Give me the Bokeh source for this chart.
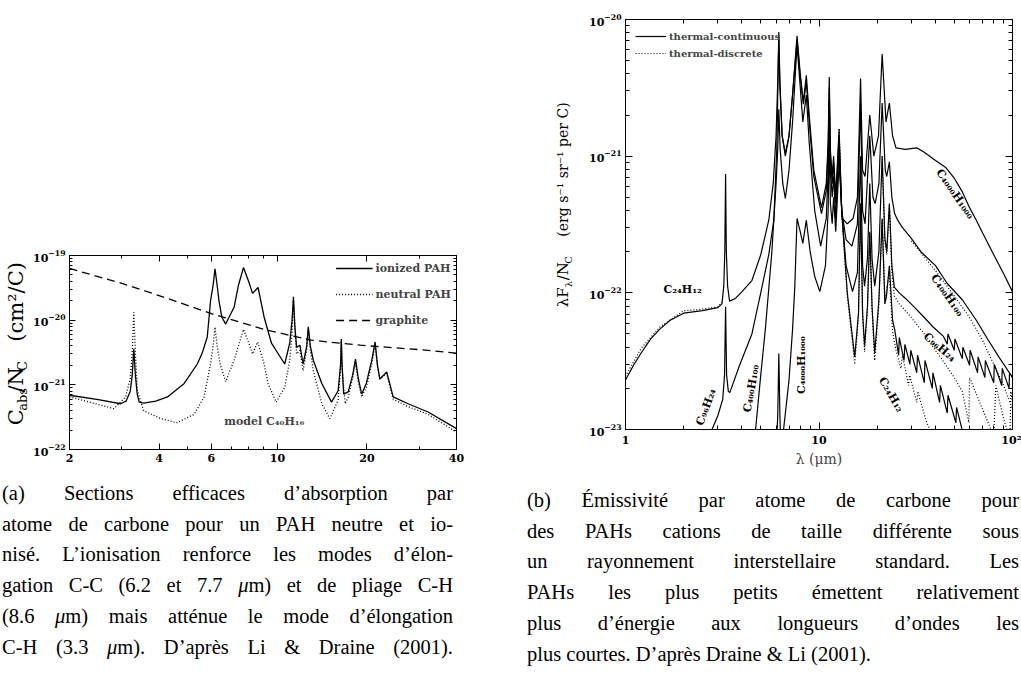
from bokeh.plotting import figure
from bokeh.models import (Range1d, LogAxis, FixedTicker, Label, Legend, LegendItem,
                          Div, Spacer, BasicTickFormatter, CustomJSTickFormatter)
from bokeh.layouts import row, column
from bokeh.embed import file_html
from bokeh.resources import INLINE

SERIF = "DejaVu Serif"

# ---------------- panel (a): absorption cross sections -----------------
A_GRA_WL = [2, 3, 4, 6, 9, 13, 19, 30, 40]
A_GRA = [6.3e-20, 3.7e-20, 2.4e-20, 1.26e-20, 7.2e-21, 4.9e-21, 4.1e-21, 3.5e-21, 3.1e-21]

A_ION_WL = [2.0, 2.5, 2.97, 3.1, 3.2, 3.25, 3.29, 3.33, 3.38, 3.43, 3.55, 3.9, 4.27, 4.86, 5.38,
            5.6, 5.81, 5.96, 6.08, 6.17, 6.27, 6.36, 6.5, 6.7, 7.15, 7.4, 7.69, 8.0, 8.25, 8.61,
            9.02, 9.55, 10.58, 11.0, 11.2, 11.32, 11.45, 11.6, 11.9, 12.2, 12.55, 12.7, 12.9, 13.2,
            14.1, 15.2, 16.0, 16.3, 16.4, 16.5, 16.7, 17.3, 17.9, 18.3, 18.7, 19.2, 19.9, 20.8,
            21.3, 21.7, 22.1, 23.3, 24.5, 27.5, 32.1, 40.0]
A_ION = [6.9e-22, 5.9e-22, 5.1e-22, 5.6e-22, 7.9e-22, 1.41e-21, 3.6e-21, 1.41e-21, 7.1e-22, 5.4e-22,
         5.2e-22, 5.6e-22, 6.5e-22, 1.05e-21, 2.1e-21, 3.2e-21, 5.5e-21, 2.0e-20, 3.5e-20, 6.2e-20,
         3.5e-20, 2.0e-20, 1.12e-20, 8.7e-21, 1.58e-20, 3.5e-20, 6.5e-20, 4.0e-20, 2.6e-20, 3.2e-20,
         1.12e-20, 4.4e-21, 2.1e-21, 4.4e-21, 1.0e-20, 2.3e-20, 7.9e-21, 3.8e-21, 4.1e-21, 2.1e-21,
         4.0e-21, 7.9e-21, 4.0e-21, 2.4e-21, 1.05e-21, 5.4e-22, 8.1e-22, 2.0e-21, 5.1e-21, 2.0e-21,
         7.2e-22, 7.8e-22, 1.41e-21, 2.5e-21, 1.26e-21, 7.2e-22, 1.05e-21, 2.5e-21, 4.6e-21, 2.0e-21,
         1.23e-21, 1.58e-21, 6.5e-22, 5.1e-22, 3.8e-22, 2.1e-22]

A_NEU_WL = [2.0, 2.82, 3.09, 3.2, 3.25, 3.29, 3.33, 3.38, 3.55, 4.05, 4.6, 5.25, 5.67, 5.96, 6.08,
            6.17, 6.27, 6.42, 6.7, 7.15, 7.4, 7.69, 8.0, 8.25, 8.58, 9.02, 9.3, 9.9, 10.58, 11.0,
            11.2, 11.32, 11.45, 11.6, 11.9, 12.2, 12.55, 12.7, 12.9, 13.2, 14.1, 15.0, 16.0, 16.3,
            16.4, 16.5, 16.9, 17.3, 17.9, 18.3, 18.7, 19.2, 19.9, 20.8, 21.3, 21.7, 22.1, 23.3,
            24.5, 27.5, 32.1, 40.0]
A_NEU = [6.5e-22, 4.3e-22, 6.5e-22, 1.26e-21, 3.2e-21, 1.32e-20, 3.2e-21, 8.1e-22, 4.0e-22, 3.0e-22,
         2.6e-22, 3.5e-22, 6.5e-22, 2.1e-21, 4.0e-21, 7.8e-21, 4.0e-21, 2.1e-21, 1.12e-21, 2.4e-21,
         4.0e-21, 7.2e-21, 4.5e-21, 3.0e-21, 4.6e-21, 2.1e-21, 1.05e-21, 5.4e-22, 9.1e-22, 2.4e-21,
         6.3e-21, 2.0e-20, 7.1e-21, 3.0e-21, 3.4e-21, 1.66e-21, 3.5e-21, 7.4e-21, 3.5e-21, 1.66e-21,
         5.1e-22, 3.0e-22, 5.8e-22, 1.78e-21, 4.8e-21, 1.78e-21, 5.1e-22, 6.5e-22, 1.26e-21, 2.2e-21,
         1.12e-21, 6.5e-22, 9.1e-22, 2.2e-21, 4.2e-21, 1.9e-21, 1.23e-21, 1.51e-21, 6.0e-22, 4.6e-22,
         3.5e-22, 1.86e-22]

# ---------------- panel (b): emission per C atom -----------------
B_C24_WL = [1.0, 1.1, 1.2, 1.35, 1.5, 1.7, 2.0, 2.5, 3.0, 3.15, 3.22, 3.26, 3.29, 3.32, 3.37, 3.45,
            3.7, 4.0, 4.5, 5.0, 5.5, 5.8, 6.0, 6.12, 6.2, 6.28, 6.45, 6.7, 7.0, 7.3, 7.7, 8.0, 8.3,
            8.6, 8.9, 9.4, 10.3, 10.9, 11.15, 11.3, 11.45, 11.7, 11.9, 12.2, 12.7, 13.1, 14.0, 15.3,
            16.0, 16.4, 16.8, 17.2, 17.8, 18.3, 18.8, 19.4, 20.4, 21.2, 21.9, 22.3, 23.1, 24.0, 24.6,
            25.8, 26.0, 27.5, 27.8, 29.5, 29.8, 32.0, 32.3, 35.0, 35.3, 38.5, 38.8, 42.0, 42.4,
            46.0, 46.4, 51.0, 51.4, 56.0, 62.0]
B_C24 = [2.3e-23, 2.95e-23, 3.6e-23, 4.6e-23, 5.4e-23, 6.3e-23, 7.1e-23, 7.4e-23, 7.8e-23, 8.3e-23,
         1.12e-22, 2.0e-22, 7.4e-22, 2.0e-22, 1.12e-22, 8.7e-23, 9.1e-23, 1.02e-22, 1.23e-22, 1.9e-22,
         3.4e-22, 6.3e-22, 1.41e-21, 3.5e-21, 8.1e-21, 3.5e-21, 1.41e-21, 1.0e-21, 1.41e-21, 2.8e-21,
         7.6e-21, 4.0e-21, 2.5e-21, 3.9e-21, 2.0e-21, 7.9e-22, 4.2e-22, 6.3e-22, 1.26e-21, 3.8e-21,
         1.12e-21, 7.1e-22, 1.0e-21, 5.0e-22, 1.58e-21, 4.0e-22, 1.0e-22, 3.4e-23, 7.1e-23, 4.5e-22,
         7.1e-23, 4.1e-23, 7.9e-23, 2.8e-22, 7.9e-23, 3.6e-23, 8.9e-23, 3.5e-22, 8.3e-23, 9.3e-23,
         1.58e-22, 6.3e-23, 5.4e-23, 3.5e-23, 4.7e-23, 3.2e-23, 4.2e-23, 3.0e-23, 3.8e-23, 2.6e-23,
         3.5e-23, 2.2e-23, 3.2e-23, 2.0e-23, 2.6e-23, 1.58e-23, 2.1e-23, 1.32e-23, 1.78e-23, 1.12e-23,
         1.45e-23, 8.9e-24, 6.3e-24]

B_C24D_WL1 = [1.0, 1.2, 1.5, 2.0, 2.5, 3.0, 3.15]
B_C24D1 = [2.45e-23, 3.9e-23, 5.6e-23, 7.4e-23, 7.6e-23, 7.9e-23, 8.5e-23]
B_C24D_WL2 = [12.7, 13.1, 14.0, 15.3, 16.0, 16.4, 16.8, 17.2, 17.8, 18.3, 18.8, 19.4, 20.4, 21.2,
              21.9, 23.1, 24.0, 25.0, 26.5, 27.0, 29.0, 29.4, 32.0, 32.4, 36.0, 39.0, 45.0]
B_C24D2 = [1.58e-21, 4.0e-22, 9.5e-23, 3.0e-23, 6.8e-23, 4.3e-22, 6.8e-23, 3.7e-23, 7.6e-23, 2.7e-22,
           7.6e-23, 3.2e-23, 8.3e-23, 3.4e-22, 8.9e-23, 1.41e-22, 5.2e-23, 3.8e-23, 2.8e-23, 3.5e-23,
           2.1e-23, 2.5e-23, 1.58e-23, 1.9e-23, 1.12e-23, 8.9e-24, 5.6e-24]

B_C96_WL = [2.55, 2.8, 3.0, 3.18, 3.25, 3.29, 3.33, 3.4, 3.46, 3.87, 4.5, 5.0, 5.5, 5.84, 6.05, 6.13,
            6.2, 6.28, 6.45, 6.7, 7.0, 7.3, 7.7, 8.0, 8.3, 8.6, 8.9, 9.4, 10.3, 10.9, 11.15, 11.3,
            11.45, 11.7, 11.9, 12.2, 12.7, 13.1, 13.8, 14.9, 15.8, 16.4, 16.8, 17.2, 17.8, 18.3,
            18.8, 19.4, 20.4, 21.2, 21.9, 22.4, 23.1, 23.8, 24.5, 26.0, 28.0, 31.0, 35.0, 39.0,
            44.0, 46.0, 46.4, 50.0, 50.4, 55.0, 55.4, 60.0, 60.4, 66.0, 66.4, 72.0, 72.4, 80.0,
            80.5, 88.0, 88.5, 96.0, 96.5, 100.0]
B_C96 = [6.3e-24, 1.0e-23, 1.26e-23, 1.66e-23, 2.5e-23, 7.9e-23, 2.5e-23, 1.9e-23, 1.86e-23, 2.9e-23,
         5.0e-23, 1.0e-22, 1.9e-22, 3.4e-22, 1.12e-21, 3.2e-21, 7.1e-21, 3.2e-21, 1.41e-21, 1.05e-21,
         1.41e-21, 2.8e-21, 7.1e-21, 3.8e-21, 2.4e-21, 3.5e-21, 1.78e-21, 7.1e-22, 3.8e-22, 5.6e-22,
         1.12e-21, 3.2e-21, 1.0e-21, 6.3e-22, 8.9e-22, 4.5e-22, 1.41e-21, 4.0e-22, 1.58e-22, 1.02e-22,
         1.41e-22, 1.0e-21, 1.58e-22, 1.12e-22, 1.78e-22, 6.3e-22, 1.78e-22, 1.12e-22, 2.0e-22, 1.0e-21,
         2.5e-22, 2.0e-22, 4.5e-22, 1.58e-22, 1.1e-22, 1.0e-22, 9.1e-23, 7.9e-23, 6.6e-23, 5.6e-23,
         4.8e-23, 4.2e-23, 5.0e-23, 3.8e-23, 4.6e-23, 3.3e-23, 4.0e-23, 2.95e-23, 3.8e-23, 2.6e-23,
         3.4e-23, 2.4e-23, 3.2e-23, 2.2e-23, 3.0e-23, 2.1e-23, 2.8e-23, 2.0e-23, 2.6e-23, 2.4e-23]

B_C96D_WL = [21.2, 21.9, 22.4, 23.1, 23.8, 24.5, 26.0, 30.0, 35.0, 40.0, 45.0, 50.0, 55.0, 59.5,
             60.0, 70.0, 80.0, 82.0, 90.0, 97.0, 98.0, 100.0]
B_C96D = [1.0e-21, 2.4e-22, 1.9e-22, 4.3e-22, 1.41e-22, 9.5e-23, 8.3e-23, 6.6e-23, 5.0e-23, 3.8e-23,
          3.0e-23, 2.4e-23, 1.9e-23, 1.12e-23, 2.4e-23, 1.41e-23, 8.9e-24, 2.1e-23, 1.2e-23, 8.3e-24,
          1.9e-23, 1.58e-23]

B_C400_WL = [4.5, 4.7, 5.0, 5.28, 5.7, 6.0, 6.12, 6.2, 6.3, 6.5, 6.7, 7.0, 7.3, 7.7, 8.0, 8.25, 8.6,
             8.9, 9.5, 10.2, 10.9, 11.15, 11.3, 11.45, 11.7, 11.9, 12.2, 12.7, 13.1, 13.8, 14.8,
             15.8, 16.4, 16.8, 17.3, 18.3, 19.0, 19.5, 20.4, 21.2, 22.0, 22.4, 23.1, 23.8, 24.6,
             25.5, 27.0, 30.0, 33.6, 40.0, 46.0, 55.0, 65.0, 75.0, 85.0, 100.0]
B_C400 = [6.3e-24, 1.0e-23, 2.5e-23, 5.4e-23, 1.95e-22, 6.3e-22, 1.12e-21, 2.2e-21, 1.12e-21, 6.3e-22,
          4.9e-22, 7.9e-22, 1.78e-21, 6.5e-21, 3.2e-21, 1.78e-21, 2.8e-21, 1.26e-21, 4.0e-22, 2.2e-22,
          3.5e-22, 7.9e-22, 2.5e-21, 7.9e-22, 5.0e-22, 7.1e-22, 3.5e-22, 1.12e-21, 4.0e-22, 2.45e-22,
          2.2e-22, 3.2e-22, 2.5e-21, 4.0e-22, 3.2e-22, 1.41e-21, 5.0e-22, 4.5e-22, 6.3e-22, 2.45e-21,
          7.9e-22, 7.1e-22, 9.1e-22, 5.0e-22, 3.8e-22, 3.4e-22, 3.0e-22, 2.5e-22, 2.0e-22, 1.58e-22,
          1.17e-22, 8.9e-23, 6.3e-23, 4.5e-23, 3.4e-23, 2.4e-23]
B_C400D_WL = [30.0, 40.0, 50.0, 60.0, 70.0, 80.0, 90.0, 100.0]
B_C400D = [2.4e-22, 1.45e-22, 9.5e-23, 6.6e-23, 4.5e-23, 3.0e-23, 2.1e-23, 1.41e-23]

B_C4000_WL = [5.95, 6.12, 6.2, 6.28, 6.4, 6.56, 7.0, 7.3, 7.5, 7.7, 8.0, 8.25, 8.6, 9.0, 9.5, 10.1,
              10.8, 11.15, 11.3, 11.45, 11.7, 11.9, 12.2, 12.7, 13.2, 14.0, 15.0, 15.8, 16.4, 16.8,
              17.3, 18.3, 19.2, 20.3, 21.2, 22.2, 23.1, 24.0, 25.0, 28.0, 32.0, 35.0, 40.0, 45.0,
              50.0, 55.0, 60.0, 65.0, 70.0, 80.0, 90.0, 100.0]
B_C4000 = [5.0e-24, 1.26e-23, 3.6e-23, 1.26e-23, 5.0e-24, 1.0e-23, 2.3e-23, 5.4e-23, 1.12e-22, 3.5e-22,
           2.8e-22, 2.3e-22, 3.4e-22, 2.0e-22, 1.32e-22, 1.02e-22, 1.58e-22, 4.0e-22, 1.41e-21, 4.5e-22,
           3.2e-22, 5.0e-22, 2.8e-22, 8.9e-22, 3.5e-22, 3.2e-22, 3.5e-22, 5.0e-22, 3.7e-21, 7.9e-22,
           7.1e-22, 2.0e-21, 1.0e-21, 1.41e-21, 5.6e-21, 1.78e-21, 2.45e-21, 1.41e-21, 1.15e-21, 1.12e-21,
           1.15e-21, 1.07e-21, 9.3e-22, 8.3e-22, 6.9e-22, 5.5e-22, 4.2e-22, 3.4e-22, 2.75e-22, 1.9e-22,
           1.38e-22, 1.02e-22]

CAPTION_A = [
    "(a) Sections efficaces d’absorption par",
    "atome de carbone pour un PAH neutre et io-",
    "nisé. L’ionisation renforce les modes d’élon-",
    "gation C-C (6.2 et 7.7 <i>μ</i>m) et de pliage C-H",
    "(8.6 <i>μ</i>m) mais atténue le mode d’élongation",
    "C-H (3.3 <i>μ</i>m). D’après Li &amp; Draine (2001).",
]
CAPTION_B = [
    "(b) Émissivité par atome de carbone pour",
    "des PAHs cations de taille différente sous",
    "un rayonnement interstellaire standard. Les",
    "PAHs les plus petits émettent relativement",
    "plus d’énergie aux longueurs d’ondes les",
    "plus courtes. D’après Draine &amp; Li (2001).",
]


def minors(lo, hi):
    return [m * 10.0 ** e for e in range(lo, hi) for m in range(2, 10)]


def style(p, major_in, minor_in, size):
    p.background_fill_color = "white"
    p.border_fill_color = "white"
    p.outline_line_color = "black"
    p.grid.visible = False
    for ax in p.axis:
        ax.major_tick_in = major_in
        ax.major_tick_out = 0
        ax.minor_tick_in = minor_in
        ax.minor_tick_out = 0
        ax.axis_line_color = "black"
        ax.major_tick_line_color = "black"
        ax.minor_tick_line_color = "black"
        ax.major_label_text_font = SERIF
        ax.major_label_text_font_style = "bold"
        ax.major_label_text_font_size = size
        ax.major_label_text_color = "black"
        ax.major_label_standoff = 4


def mirror(p, xt, yt):
    blank = CustomJSTickFormatter(code="return ''")
    top = LogAxis(ticker=xt, formatter=blank)
    right = LogAxis(ticker=yt, formatter=blank)
    p.add_layout(top, "above")
    p.add_layout(right, "right")
    return top, right


def label_panel(w, h):
    f = figure(width=w, height=h, x_range=Range1d(0, w), y_range=Range1d(0, h),
               toolbar_location=None, output_backend="svg", min_border=0,
               x_axis_location=None, y_axis_location=None)
    f.outline_line_color = None
    f.grid.visible = False
    f.background_fill_color = "white"
    f.border_fill_color = "white"
    return f


def add_pieces(f, pieces):
    for txt, x, y, fs in pieces:
        f.add_layout(Label(x=x, y=y, text=txt, angle=90, angle_units="deg", text_font=SERIF,
                           text_font_size=fs, text_align="left", text_baseline="middle",
                           text_color="black"))


# ================= left figure =================
p1 = figure(width=490, height=225, x_axis_type="log", y_axis_type="log",
            x_range=Range1d(2, 40), y_range=Range1d(1e-22, 1e-19),
            output_backend="svg", toolbar_location=None,
            min_border_left=38, min_border_right=64, min_border_top=10, min_border_bottom=21)
xt1 = FixedTicker(ticks=[2, 4, 6, 10, 20, 40], minor_ticks=[3, 5, 7, 8, 9, 30])
yt1 = FixedTicker(ticks=[1e-22, 1e-21, 1e-20, 1e-19], minor_ticks=minors(-22, -19))
p1.below[0].ticker = xt1
p1.below[0].formatter = BasicTickFormatter()
p1.left[0].ticker = yt1
t1, r1 = mirror(p1, xt1, yt1)
style(p1, 6, 3, "11px")
for ax in (t1, r1):
    ax.major_label_standoff = 0

r_ion = p1.line(A_ION_WL, A_ION, line_color="black", line_width=1.3)
r_neu = p1.line(A_NEU_WL, A_NEU, line_color="black", line_width=1.3, line_dash="1 2")
r_gra = p1.line(A_GRA_WL, A_GRA, line_color="black", line_width=1.3, line_dash="8 5")

leg1 = Legend(items=[LegendItem(label="ionized PAH", renderers=[r_ion]),
                     LegendItem(label="neutral PAH", renderers=[r_neu]),
                     LegendItem(label="graphite", renderers=[r_gra])],
              location="top_right", background_fill_alpha=0, border_line_alpha=0,
              label_text_font=SERIF, label_text_font_style="bold", label_text_font_size="11px",
              glyph_width=37, glyph_height=16, label_height=16, label_standoff=3,
              spacing=10, padding=0, margin=5)
p1.add_layout(leg1)

p1.add_layout(Label(x=6.63, y=2.7e-22, text="model C₄₀H₁₆", text_font=SERIF,
                    text_font_style="bold", text_font_size="11px", text_baseline="middle",
                    text_align="left"))

# y-axis title of panel (a) with subscripts, drawn in a narrow side panel
pl1 = label_panel(30, 225)
add_pieces(pl1, [("C", 15, 28, "21px"), ("abs", 22, 45, "13px"), ("/N", 15, 66, "21px"),
                 ("C", 22, 91, "13px"), ("(cm²/C)", 15, 125, "21px")])

# ================= right figure =================
p2 = figure(width=435, height=470, x_axis_type="log", y_axis_type="log",
            x_range=Range1d(1, 100), y_range=Range1d(1e-23, 1e-20),
            output_backend="svg", toolbar_location=None,
            min_border_left=36, min_border_right=9, min_border_top=19, min_border_bottom=41)
xt2 = FixedTicker(ticks=[1, 10, 100], minor_ticks=[2, 3, 4, 5, 6, 7, 8, 9, 20, 30, 40, 50, 60, 70, 80, 90])
yt2 = FixedTicker(ticks=[1e-23, 1e-22, 1e-21, 1e-20], minor_ticks=minors(-23, -20))
p2.below[0].ticker = xt2
p2.below[0].formatter = BasicTickFormatter()
p2.below[0].major_label_overrides = {1: "1", 10: "10", 100: "10²"}
p2.left[0].ticker = yt2
t2, r2 = mirror(p2, xt2, yt2)
style(p2, 7, 4, "11px")
for ax in (t2, r2):
    ax.major_label_standoff = 0
p2.below[0].axis_label = "λ (μm)"
p2.below[0].axis_label_text_font = SERIF
p2.below[0].axis_label_text_font_style = "normal"
p2.below[0].axis_label_text_font_size = "14px"
p2.below[0].axis_label_standoff = 1

LW = 1.2
r_c24 = p2.line(B_C24_WL, B_C24, line_color="black", line_width=LW)
p2.line(B_C96_WL, B_C96, line_color="black", line_width=LW)
p2.line(B_C400_WL, B_C400, line_color="black", line_width=LW)
p2.line(B_C4000_WL, B_C4000, line_color="black", line_width=LW)
p2.line(B_C24D_WL1, B_C24D1, line_color="black", line_width=LW, line_dash="1 2")
r_c24d = p2.line(B_C24D_WL2, B_C24D2, line_color="black", line_width=LW, line_dash="1 2")
p2.line(B_C96D_WL, B_C96D, line_color="black", line_width=LW, line_dash="1 2")
p2.line(B_C400D_WL, B_C400D, line_color="black", line_width=LW, line_dash="1 2")

leg2 = Legend(items=[LegendItem(label="thermal-continuous", renderers=[r_c24]),
                     LegendItem(label="thermal-discrete", renderers=[r_c24d])],
              location="top_left", background_fill_alpha=0, border_line_alpha=0,
              label_text_font=SERIF, label_text_font_style="bold", label_text_font_size="10px",
              glyph_width=31, glyph_height=14, label_height=14, label_standoff=3,
              spacing=3, padding=0, margin=10)
p2.add_layout(leg2)

for txt, x, y, ang, al in [("C₂₄H₁₂", 1.57, 1.05e-22, 0, "left"),
                           ("C₉₆H₂₄", 2.61, 1.46e-23, 70, "center"),
                           ("C₄₀₀H₁₀₀", 4.47, 2.0e-23, 80, "center"),
                           ("C₄₀₀₀H₁₀₀₀", 8.15, 2.96e-23, 90, "center"),
                           ("C₂₄H₁₂", 23.6, 1.8e-23, -60, "center"),
                           ("C₉₆H₂₄", 42.0, 4.0e-23, -40, "center"),
                           ("C₄₀₀H₁₀₀", 46.0, 9.6e-23, -55, "center"),
                           ("C₄₀₀₀H₁₀₀₀", 50.5, 5.3e-22, -55, "center")]:
    p2.add_layout(Label(x=x, y=y, text=txt, angle=ang, angle_units="deg", text_font=SERIF,
                        text_font_style="bold", text_font_size="11px", text_align=al,
                        text_baseline="middle", text_color="black"))

# y-axis title of panel (b), side panel between the two plots
pl2 = label_panel(66, 470)
add_pieces(pl2, [("λF", 42, 140, "15px"), ("λ", 48, 163, "10px"), ("/N", 42, 171, "15px"),
                 ("C", 48, 190, "10px"), ("(erg s⁻¹ sr⁻¹ per C)", 42, 221, "14px")])


# ================= captions =================
def caption(lines, pad_top, pad_left, width, justify_last):
    out = []
    for i, ln in enumerate(lines):
        last = "justify" if (justify_last or i < len(lines) - 1) else "left"
        out.append('<div style="text-align:justify;text-align-last:%s;">%s</div>' % (last, ln))
    return ('<div style="font-family:\'Liberation Serif\',serif;font-size:20.5px;line-height:30.7px;'
            'color:#000;width:%dpx;padding-top:%dpx;padding-left:%dpx;">' % (width, pad_top, pad_left)
            + "".join(out) + "</div>")


div_a = Div(text=caption(CAPTION_A, 8, 2, 453, True), width=455, height=205, margin=(0, 0, 0, 0))
div_b = Div(text=caption(CAPTION_B, 15, 0, 492, False), width=494, height=205, margin=(0, 0, 0, 0))

layout = column(
    row(column(Spacer(width=520, height=245, margin=(0, 0, 0, 0)), row(pl1, p1)), pl2, p2),
    row(div_a, Spacer(width=72, height=205, margin=(0, 0, 0, 0)), div_b),
)

open("out.html", "w").write(file_html(layout, INLINE))
